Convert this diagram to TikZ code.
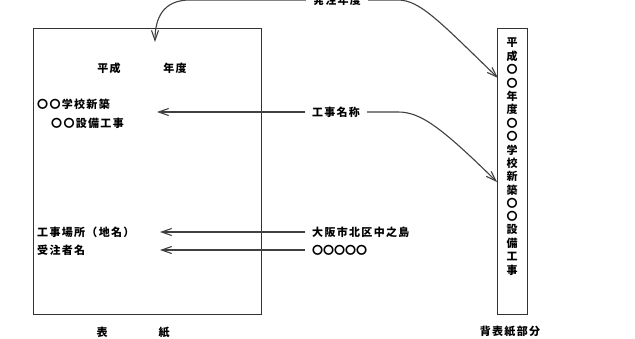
\documentclass[tikz,border=0pt]{standalone}
\usepackage{fontspec}
\newfontfamily\jp{Noto Sans CJK JP}[LetterSpace=12]
\usetikzlibrary{arrows.meta}

\begin{document}
\begin{tikzpicture}[x=1pt,y=-1pt,
	font=\jp\bfseries\fontsize{11}{13}\selectfont,
	sheet/.style={draw=black!80,line width=1.3pt},
	pointer/.style={draw=black!75,line width=1.1pt,-{Straight Barb[length=10pt,width=7pt]}},
	label/.style={inner ysep=0pt,inner xsep=7pt},
	txt/.style={inner sep=0pt,anchor=west}]
							\useasboundingbox (0,0) rectangle (635,338);
							% cover sheet and spine
							\node[sheet,minimum width=228,minimum height=286,anchor=north west] (cover) at (33,28) {};
							\node[sheet,minimum width=30,minimum height=286,anchor=north west] (spine) at (497,28) {};
							\foreach \c [count=\i from 0] in {平,成,〇,〇,年,度,〇,〇,学,校,新,築,〇,〇,設,備,工,事}
								\node[inner sep=0pt] (sp\i) at (512,43+13.35*\i) {\c};
							% texts on the cover
							\node[inner sep=0pt] (heisei) at (109,68) {平成};
							\node[inner sep=0pt] (nendo) at (175,68) {年度};
							\node[txt] (gakko) at (37,104) {〇〇学校新築};
							\node[txt] (setsubi) at (51,123) {〇〇設備工事};
							\node[txt] (basho) at (37,232) {工事場所（地名）};
							\node[txt] (jutyu) at (37,250) {受注者名};
							\node (omote) at (102,332) {表};
							\node (kami) at (164,332) {紙};
							\node (sebyoshi) at (510,331) {背表紙部分};
							% labels between
							\node[label] (hatchu) at (337,0) {発注年度};
							\node[label] (meisho) at (336,112) {工事名称};
							\node[label,anchor=west] (osaka) at (305,232) {大阪市北区中之島};
							\node[label,anchor=west] (maru) at (305,250) {\addfontfeature{LetterSpace=0}〇〇〇〇〇};
							\coordinate (yeartip) at (155,42);
							\coordinate (nametip) at (157,112);
							\coordinate (placetip) at (160,232);
							\coordinate (ordertip) at (160,250);
							\coordinate (spinetipA) at (498,78);
							\coordinate (spinetipB) at (497,182);
							% arrows
							\draw[pointer] (hatchu.west) -- (190,0) .. controls (163,0) and (155,18) .. (yeartip);
							\draw[pointer] (hatchu.east) -- (398,0) .. controls (420,0) and (440,22) .. (spinetipA);
							\draw[pointer] (meisho.west) -- (nametip);
							\draw[pointer] (meisho.east) -- (398,112) .. controls (420,112) and (440,126) .. (spinetipB);
							\draw[pointer] (osaka.west) -- (placetip);
							\draw[pointer] (maru.west) -- (ordertip);
\end{tikzpicture}
\end{document}
